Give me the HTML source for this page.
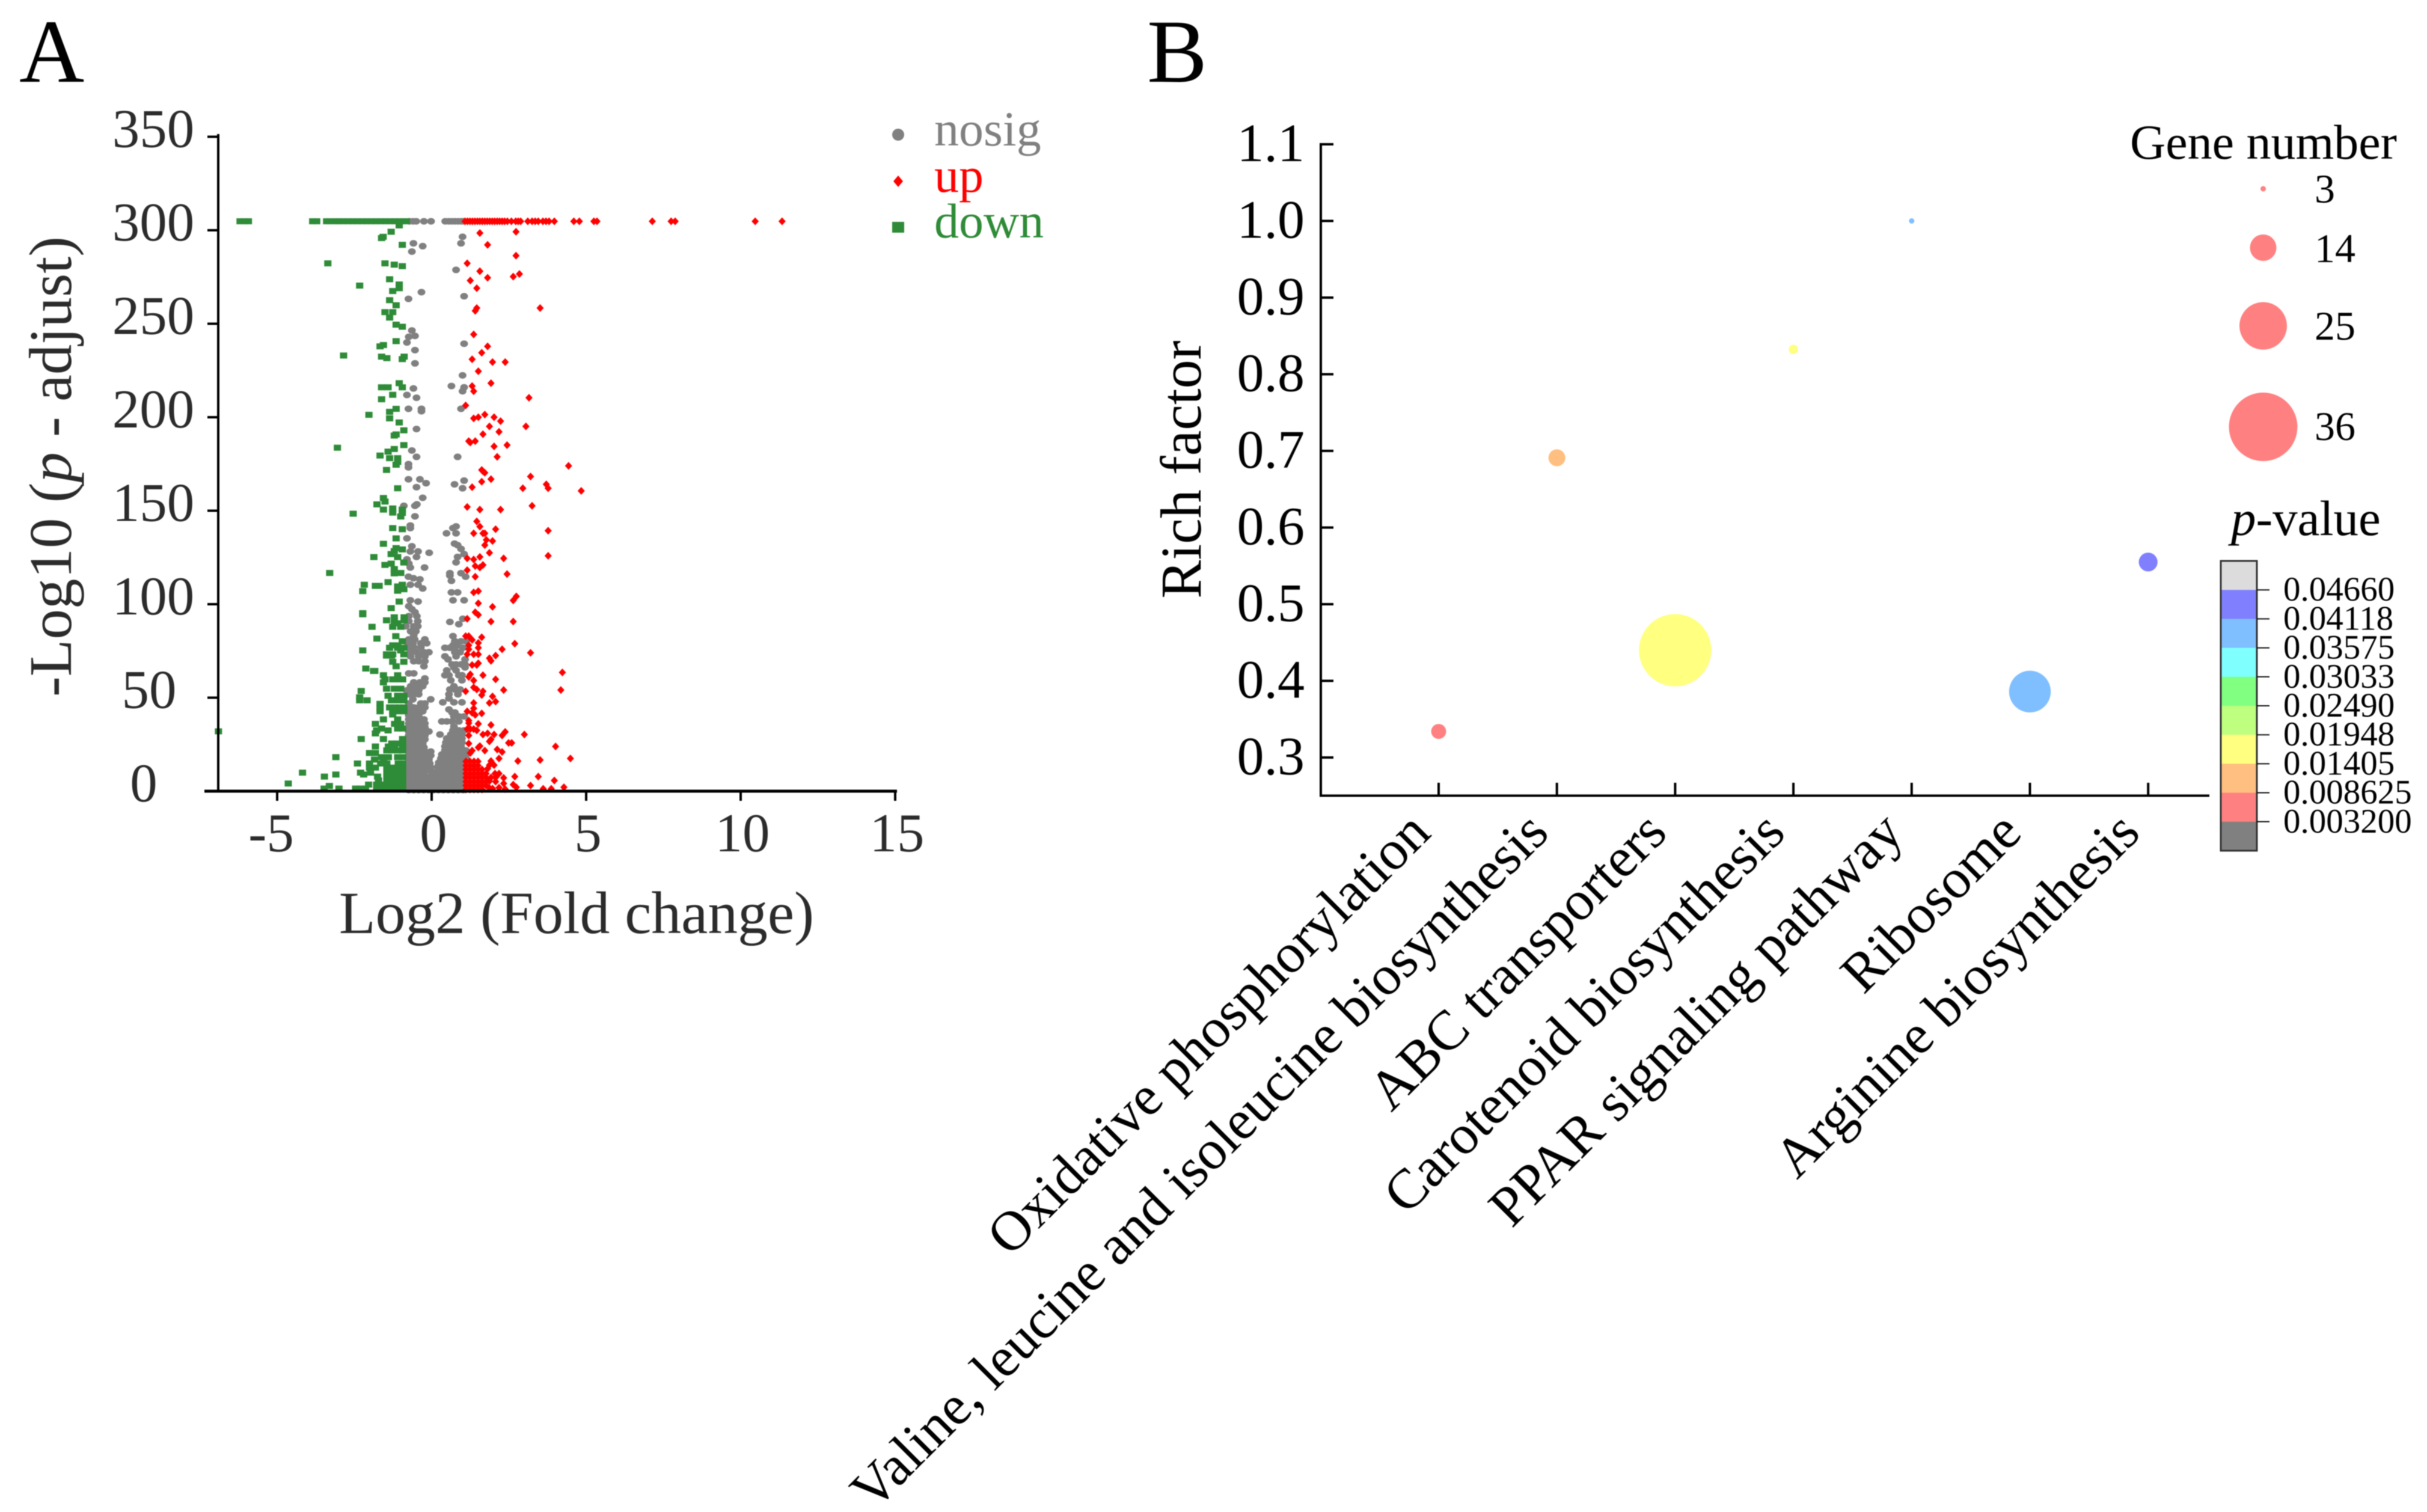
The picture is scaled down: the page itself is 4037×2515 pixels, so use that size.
<!DOCTYPE html>
<html lang="en">
<head>
<meta charset="utf-8">
<title>Volcano plot and KEGG enrichment bubble chart</title>
<style>
html,body{margin:0;padding:0;background:#fff;}
svg{display:block;filter:blur(0.9px);}
text{font-family:"Liberation Serif",serif;}
</style>
</head>
<body>
<svg id="figure" xmlns="http://www.w3.org/2000/svg" width="4037" height="2515" viewBox="0 0 4037 2515">
<rect x="0" y="0" width="4037" height="2515" fill="#fff"/>
<text x="32" y="136" font-size="150" fill="#000">A</text>
<text x="1908" y="136" font-size="150" fill="#000">B</text>

<g id="panelA">
<g id="nosigLayer"></g>
<g id="upLayer"></g>
<g id="downLayer"></g>
<g id="axesA"></g>
<text x="959" y="1552" font-size="99.500" text-anchor="middle" fill="#2b2b2b">Log2 (Fold change)</text>
<text transform="translate(118,776) rotate(-90)" font-size="101" text-anchor="middle" fill="#2b2b2b">-Log10 (<tspan font-style="italic">p</tspan> - adjust)</text>
<g>
<circle cx="1494" cy="224" r="10" fill="#808080"/>
<text x="1554" y="242" font-size="82" fill="#808080">nosig</text>
<path d="M1494 292L1502 301.500L1494 311L1486 301.500Z" fill="#ff0000"/>
<text x="1554" y="319" font-size="82" fill="#ff0000">up</text>
<rect x="1484" y="369" width="20" height="18" fill="#2e8b37"/>
<text x="1554" y="395" font-size="82" fill="#2e8b37">down</text>
</g>
</g>

<g id="panelB">
<g id="axesB"></g>
<g id="bubbles"></g>
<g id="catLabels"></g>
<text transform="translate(1997,781) rotate(-90)" font-size="96" text-anchor="middle" fill="#000">Rich factor</text>
<text x="3543" y="264" font-size="82" fill="#000">Gene number</text>
<g id="sizeLegend"></g>
<text x="3711" y="890" font-size="83" fill="#000"><tspan font-style="italic">p</tspan>-value</text>
<g id="colorbar"></g>
</g>
</svg>

<script>
/* ---------- Panel A data: [log2 fold change, -log10 p-adjust] ---------- */
const volcanoXTicks = [-5, 0, 5, 10, 15];
const volcanoYTicks = [0, 50, 100, 150, 200, 250, 300, 350];

const topRowDown = [-6.2,-6.05,-5.93,-3.85,-3.72,-3.4,-3.28,-3.1,-3,-2.85,-2.7,-2.55,-2.4,-2.25,-2.1,-1.95,-1.8,-1.65,-1.5,-1.35,-1.2,-1.05,-0.9,-0.82];
const topRowNosig = [-0.72,-0.6,-0.5,-0.25,-0.02,0.44,0.55,0.65,0.75,0.85,0.95,1.02];
const topRowUp = [1.08,1.16,1.24,1.32,1.4,1.48,1.56,1.64,1.72,1.8,1.88,1.96,2.04,2.12,2.2,2.28,2.36,2.45,2.58,2.72,2.8,2.88,3.11,3.25,3.35,3.45,3.6,3.7,3.8,3.97,4.6,4.78,5.25,5.35,7.14,7.75,7.88,10.47,11.34];
const topRowLevel = [304.8];

const downPoints = [[-1.57,296.5],[-1.05,302.6],[-1.31,299.2],[-1.62,295.8],[-0.95,292.2],[-3.36,282.3],[-1.51,282.3],[-1.21,281.6],[-0.95,280.8],[-1.36,273.8],[-1.05,271],[-2.33,270.4],[-1.05,269],[-1.26,267.5],[-1.36,262.6],[-1.15,259.9],[-1.51,256.2],[-1.26,256.2],[-1.36,253.3],[-1.15,249.5],[-0.95,248.4],[-1.15,240.7],[-1.56,238.6],[-1.67,237.9],[-2.85,233],[-1.62,232.4],[-1.45,231.6],[-0.89,232.4],[-0.95,231.1],[-1.05,218.2],[-1.62,216],[-1.41,216],[-0.95,216],[-1.26,212],[-1.62,209.6],[-1.15,204.5],
[-2.03,201.3],[-1.36,202.9],[-1.36,199.4],[-1.05,197.2],[-0.9,193],[-1.15,190.8],[-1.21,190.2],[-3.05,183.7],[-0.9,185.1],[-1.21,183],[-1.41,181.6],[-1.67,179.5],[-1.36,178.1],[-1.1,178.1],[-1.1,176.1],[-1.15,174.6],[-1.46,171.8],[-1.1,162],[-1.56,156.8],[-1.51,154.9],[-1.77,153.4],[-1.56,150.6],[-1.26,151.2],[-1.26,149],[-0.95,150.6],[-0.95,148.8],[-1,146.9],[-2.54,148.4],[-1.26,140.7],[-0.95,140.1],[-1.15,135.2],[-1.56,132.3],[-1.15,130],[-0.95,129.3],[-1.21,128.4],[-1.31,126.8],[-1.1,125.2],[-1.87,125.2],[-0.9,122.3],[-1.31,121.7],[-1.51,121],[-1.21,118.8],[-1.21,116.5],[-1,116.7],[-3.3,116.7],[-1.41,111.8],[-2.18,110.4],[-1.82,109.8],[-1.7,109.8],[-0.95,110.4],[-1.1,109.5],[-0.9,108],[-1.1,107.2],[-2.23,107],[-1.05,101.4],[-1.31,97.9],[-2.23,95.2],
[-6.9,32],[-4.64,4.1]];

const downRows = [
[94.6,[-2.23]],[93,[-1.21,-0.89]],[91.4,[-1.46,-1.21,-0.89]],[89.8,[-1.1,-1.21]],[87.9,[-1.93,-1.26,-1]],[82.9,[-1.16]],[81.6,[-1.77]],[80.2,[-0.95]],[78,[-1.26,-1.1]],[76.7,[-1.36,-1.1,-0.9]],[75.3,[-2.23,-1]],[73.2,[-1.46,-1.26,-0.9]],[72.5,[-1.46,-1.3]],[69.2,[-1.26,-0.9]],[66.8,[-1.15]],[65.6,[-2.13]],[64.3,[-1.84,-1.88]],[62,[-1.56,-1.1]],[59.8,[-1.51,-1.26,-1.1,-0.94]],[58.2,[-1.56]],[54.8,[-1.46,-1.21,-1]],[53.6,[-2.28]],[51,[-1.41,-1.1,-0.9]],[50.2,[-2.33]],[48.6,[-2.33,-2.09,-1.3,-1.1,-0.9]],[46.7,[-1.67]],[44.8,[-1.67,-1.36,-1.2,-0.9,-1.05]],[42.7,[-1.67,-1.26,-1.1,-0.9]],[41,[-1.26]],[38.4,[-1.56,-1.1]],[36,[-1.82,-1.2,-1]],[33.5,[-1.62,-1.1,-0.94]],[32.5,[-1.78,-1.41]],[30.9,[-1.82]],[27.9,[-1.56,-2.28,-0.94]],[25.5,[-1.29,-1.1,-0.94]],[23.9,[-1.82,-1.4,-1.2,-0.94]],[21.8,[-1.45,-1.29,-1.1,-0.94]],[20.4,[-2.01,-1.82]],[18.2,[-3.1,-1.62,-1.4,-1.1,-0.94]],[16.9,[-1.85,-1.55]],[14.8,[-2.4,-2.01,-1.65,-1.45,-1.08,-0.94]],[12.6,[-2.01,-1.82,-1.45,-1.29,-1.1,-0.94]],[9.9,[-4.18,-2.3,-1.98,-1.45,-1.29,-1.1,-0.94]],[8.9,[-3.1,-2.2]],[7.8,[-3.47,-1.75,-1.45,-1.29,-1.1,-0.94]],[5.7,[-1.72,-1.45,-1.29,-1.1,-0.94]],[3.5,[-2.04,-1.78,-1.58,-1.42,-1.26,-1.1,-0.94]],[2.8,[-3.31]],[1.4,[-3.48,-3,-2.46,-2.3,-2.14,-1.78,-1.62,-1.45,-1.29,-1.1,-0.94]]
];

const nosigPoints = [[-0.59,293],[-0.29,291.5],[-0.64,288.6],[1,296.5],[0.95,293],[0.79,278.8],[-0.33,266.9],[-0.75,263.3],[1.05,264.7],[-0.64,246.4],[-0.54,243.5],[-0.74,243],[-0.8,240],[1.05,239.3],[-0.54,235.9],[-0.54,228.8],[1,222.4],[0.64,216.7],[1.05,216],[1,213.9],[-0.59,215.4],[-0.8,211.9],[-0.49,210.4],[-0.75,204.5],[-0.33,204.5],[0.95,204.5],
[-0.33,203.2],[-0.49,193.7],[-0.64,182.2],[-0.49,178.8],[0.84,178.8],[-0.75,174.9],[-0.75,173.2],[-0.75,166.8],[-0.38,166.8],[-0.18,164.7],[-0.49,162.6],[1.05,166.1],[0.74,164.1],[1,162],[-0.29,156.9],[-0.48,153.4],[-0.54,152.6],[-0.9,152.6],[-0.54,147],[-0.69,142.1],[-0.69,140.7],[0.79,141.6],[0.69,140.7],[0.48,137.9],[0.79,137.9],[-0.8,135.2],[-0.64,131],[-0.69,128.2],[-0.44,128.2],[-0.08,127.5],[-0.49,125.3],[0.74,132.4],[0.84,131.6],[0.95,129.6],[1.05,126.8],[0.84,125.3],[0.79,122.4],[-0.8,124],[-0.74,121.8],[-0.69,119.6],[-0.23,119.6],[0.59,116.6],[0.59,115.3],[0.95,116.6],[1.1,114.7],[0.64,112.5],[-0.75,114.7],[-0.59,113.9],[-0.38,113.3],[-0.69,110.4],[-0.44,110.4],[-0.29,108.4],[0.64,106.3],[0.84,106.3],[0.69,102.1],[1.05,102.1],[-0.69,102.1],[-0.44,101.4],[-0.74,98.9],[-0.64,97.3],[-0.54,95.7]];

const nosigLeftRows = [
[93.6,[-0.74,-0.48]],[90.9,[-0.74,-0.45]],[88.2,[-0.84,-0.58,-0.45]],[85.5,[-0.68,-0.51]],[83.4,[-0.58]],[81.2,[-0.74,-0.55,-0.22]],[79.1,[-0.77,-0.61,-0.35,-0.16]],[77,[-0.77,-0.58,-0.35]],[74.3,[-0.68,-0.48,-0.25,-0.09]],[72.1,[-0.68,-0.42,-0.22]],[69.5,[-0.58,-0.42,-0.22]],[66.8,[-0.25]],[63,[-0.74,-0.58]],[60.3,[-0.22]],[58.2,[-0.58,-0.38,-0.22]],[56.1,[-0.68,-0.48,-0.29]],[53.9,[-0.81,-0.61,-0.42]],[51.8,[-0.74,-0.58,-0.42]],[49.1,[-0.61,-0.03]],[46.9,[-0.74,-0.35,-0.22]],[44.8,[-0.74,-0.58,-0.42,-0.22]],[42.7,[-0.74,-0.58,-0.42,-0.29]],[40.5,[-0.74,-0.58,-0.42]],[38.4,[-0.74,-0.58,-0.42,-0.25]],[36.2,[-0.74,-0.58,-0.42,-0.22]],[34.1,[-0.74,-0.58,-0.42,-0.22]],[31.9,[-0.74,-0.58,-0.42,-0.22,-0.09]],[29.8,[-0.74,-0.58,-0.42,-0.22]],[27.7,[-0.74,-0.58,-0.42,-0.22]],[25.5,[-0.74,-0.58,-0.42,-0.29]],[23.4,[-0.74,-0.58,-0.42,-0.25]],[21.2,[-0.74,-0.58,-0.42,-0.22,-0.03]],[19.1,[-0.74,-0.58,-0.42,-0.22,-0.03]],[16.9,[-0.74,-0.58,-0.42,-0.22,-0.09]],[14.8,[-0.74,-0.58,-0.42,-0.22,-0.06]],[12.6,[-0.74,-0.58,-0.42,-0.22,-0.03]],[10.5,[-0.74,-0.58,-0.42,-0.22,0]],[8.4,[-0.74,-0.58,-0.42,-0.22,0]],[6.2,[-0.74,-0.58,-0.42,-0.22,-0.03,0.14]]
];

const nosigRightRows = [
[92.2,[1.01]],[90.5,[0.59]],[89.3,[0.88]],[82.9,[0.69]],[80.2,[0.75,0.95,1.11]],[78,[0.69,0.82]],[76.7,[0.43,0.59,0.75,1.01]],[74.3,[0.75,0.92]],[72.1,[0.43,0.79]],[70.5,[0.53,1.08]],[67.8,[0.66,0.79,0.95,1.08]],[66.2,[0.72,1.08]],[64.6,[0.49,0.79]],[62,[0.43,0.56,0.88,0.98]],[59.3,[0.62,0.98]],[56.1,[0.72]],[54.4,[0.59,0.75,0.92]],[51.8,[0.56,0.85]],[49.6,[0.56]],[47.5,[0.36,0.72,0.98]],[43.7,[0.56]],[42.1,[0.66,0.75]],[40,[0.72,0.88,1.05]],[37.3,[0.33,0.49,0.66,0.88]],[34.6,[0.72]],[32.5,[0.69,0.88,1.05]],[30.3,[0.27,0.62,0.82,0.98]],[28.2,[0.49,0.66,0.82,0.98]],[26,[0.46,0.66,0.82,0.98]],[23.9,[0.43,0.62,0.82,0.95]],[21.8,[0.43,0.62,0.82,0.98,1.11]],[19.6,[0.33,0.49,0.66,0.82,0.98,1.11]],[17.5,[0.3,0.46,0.62,0.79,0.95,1.11]],[15.3,[0.23,0.4,0.56,0.72,0.88,1.05]],[13.2,[0.2,0.36,0.53,0.69,0.85,1.01]],[11,[0.2,0.36,0.53,0.69,0.85,1.01]],[8.9,[0.14,0.36,0.53,0.69,0.85,1.01]],[6.6,[0.2,0.36,0.53,0.69,0.85,1.01]]
];

const nosigBaseRows = [
[4.4,[-0.74,-0.58,-0.42,-0.26,-0.1,0.06,0.22,0.38,0.54,0.7,0.86,1.02]],
[2.4,[-0.74,-0.58,-0.42,-0.26,-0.1,0.06,0.22,0.38,0.54,0.7,0.86,1.02]],
[0.6,[-0.74,-0.58,-0.42,-0.26,-0.1,0.06,0.22,0.38,0.54,0.7,0.86,1.02]]
];

const upPoints = [[1.56,298.5],[2.73,299.2],[1.81,292.2],[2.73,286.4],[1.15,282.3],[1.56,278.1],[1.81,274.6],[2.64,275.2],[2.84,276.6],[1.25,273.1],[1.46,269],[1.46,258.4],[1.41,256.9],[3.51,258.4],[1.36,244.3],[1.81,237.9],[1.62,234.5],[1.31,231],[1.97,229.5],[2.38,229.5],[1.51,224.6],[1.92,218.2],[1.31,216.7],[1.36,213.9],[3.15,210.4],[1.1,206.3],
[1.36,199.4],[1.51,200],[1.72,201.4],[2.02,200],[2.23,197.9],[1.87,195.1],[3.05,195.1],[2.18,192.2],[1.66,190.9],[1.2,187.2],[1.25,186.5],[1.41,187.2],[2.02,184.4],[2.44,185.1],[2.12,178.8],[4.43,174],[1.62,171.8],[1.66,171.1],[1.72,170.3],[3.2,168.3],[1.92,166.9],[1.62,165.5],[1.31,162.6],[3.71,164.1],[3.77,162],[2.95,162],[4.84,160.6],[1.15,152],[1.56,150.6],[2.23,150.6],[3.25,152.6],[1.46,144.3],[1.56,141.5],[2.07,140.1],[3.77,139.3],[1.36,137.9],[1.66,137.9],[1.72,137.9],[1.77,134.4],[1.97,133.8],[1.72,131.6],[1.87,127.5],[3.77,125.9],[1.15,124.5],[1.36,123.9],[1.56,125.3],[2.33,124.5],[1.41,120.4],[1.56,119.6],[1.66,121],[1.15,118.2],[1.41,114.7],[2.44,116.1],[1.36,106.3],[1.51,107],[2.74,104.2],[2.64,102],[1.51,100.5],[1.97,98.6],[1.41,95.7],
[1.15,92.2],[1.51,94.3],[1.92,90.7],[2.64,90.7],[1.1,82.9],[1.2,82.9],[1.31,80.9],[1.62,82.3],[1.51,79.3],[1.2,78],[1.2,75.9],[1.51,76.7],[2.69,78.9],[2.28,75.9],[3.2,74],[1.15,73.2],[1.36,73.2],[1.51,73.2],[2.07,72.5],[1.87,71.1],[1.92,69.7],[1.31,67.5],[1.46,67.5],[1.51,68.4],[4.23,63.5],[1.25,62.5],[1.2,61.1],[1.66,62],[1.36,59.2],[2.07,59.8],[1.36,55.5],[1.46,54.4],[1.66,53.4],[1.62,51.4],[1.1,53.4],[2.33,54.1],[4.18,54.1],[1.97,50.7],[2.07,47.9],[1.87,47.2],[1.36,47.2],[1.36,44.3],[1.15,42.7],[1.31,41.9],[1.41,40.8],[1.62,41.6],[1.2,37.8],[1.2,36.4],[1.51,36],[1.92,35.4],[1.15,33.2],[1.25,33.2],[1.36,33.2],[1.46,32.5],[1.2,29.8],[1.66,30.3],[1.81,30.9],[2.02,30.3],[2.28,29.8],[2.38,31.7],[3,30.3],[1.2,25.5],[1.87,26.6],[1.92,27.7],[2.49,25.8],[2.59,25.8],[4.01,23.9],[1.51,23.4],[1.56,24.1],[1.72,21.7],[2.12,22.3],[2.28,21],[1.31,21.7],[1.25,20.4],[2.18,17.5],[4.49,17.5],[3.51,16.7],[2.79,16.1],[1.92,16.1],[1.87,13.9],[2.02,13.9],[1.81,12],
[2.05,9.4],[2.18,9.4],[1.92,7.3],[2.07,7.3],[2.33,7.1],[2.69,7.8],[3.45,7.8],[1.87,5.4],[2.07,5.1],[2.33,4.1],[3.97,5.7],[2.64,3.5],[2.74,2.1],[3.2,3],[3.61,1.3],[3.87,1.3],[4.28,2.1],[1.76,3],[1.86,1.9],[1.97,1.4],[2.18,1.9],[2.38,1.1],[1.76,9.4],[1.76,7.3],[1.76,5.1]];

const upRows = [
[15.9,[1.11,1.24,1.37,1.5]],[13.7,[1.11,1.24,1.37,1.5]],[11.6,[1.11,1.24,1.37,1.5,1.63]],[9.4,[1.11,1.24,1.37,1.5,1.63]],[7.3,[1.11,1.24,1.37,1.5,1.63]],[5.1,[1.11,1.24,1.37,1.5,1.63]],[3,[1.11,1.24,1.37,1.5,1.63]],[0.9,[1.11,1.24,1.37,1.5,1.63]]
];

/* ---------- Panel B data ---------- */
const pathways = ["Oxidative phosphorylation","Valine, leucine and isoleucine biosynthesis","ABC transporters","Carotenoid biosynthesis","PPAR signaling pathway","Ribosome","Arginine biosynthesis"];
const richFactor = [0.334,0.691,0.44,0.8325,1.0,0.386,0.555];
const geneCount = [8,9,38,5,3,22,10];
const pValueBand = [8,7,6,6,2,2,1];
const richTicks = ["0.3","0.4","0.5","0.6","0.7","0.8","0.9","1.0","1.1"];
const sizeLegendValues = [3,14,25,36];
const colorbarLabels = ["0.04660","0.04118","0.03575","0.03033","0.02490","0.01948","0.01405","0.008625","0.003200"];
const bandColors = ["#dcdcdc","#8080ff","#80bfff","#80ffff","#80ff80","#bfff80","#ffff80","#ffbf80","#ff8080","#808080"];

/* ---------- helpers ---------- */
const NS = "http://www.w3.org/2000/svg";
function mk(tag, parent, attrs, txt) {
  const el = document.createElementNS(NS, tag);
  for (const k in attrs) el.setAttribute(k, attrs[k]);
  if (txt !== undefined) el.textContent = txt;
  parent.appendChild(el);
  return el;
}
function expand(rows) {
  const out = [];
  rows.forEach(function (r) { r[1].forEach(function (fc) { out.push([fc, r[0]]); }); });
  return out;
}
const xA = function (v) { return 718 + 51.4 * v; };
const yA = function (v) { return 1316 - 3.11 * v; };
const yB = function (v) { return 1260 - 1275 * (v - 0.3); };
const xB = function (i) { return 2393 + 196.7 * i; };
const rB = function (n) { return 4.5 + (n - 3) * 1.59; };

/* ---------- Panel A marks ---------- */
const nosigLayer = document.getElementById("nosigLayer");
const upLayer = document.getElementById("upLayer");
const downLayer = document.getElementById("downLayer");
const allNosig = topRowNosig.map(function (fc) { return [fc, topRowLevel[0]]; })
  .concat(nosigPoints, expand(nosigLeftRows), expand(nosigRightRows), expand(nosigBaseRows));
const allUp = topRowUp.map(function (fc) { return [fc, topRowLevel[0]]; }).concat(upPoints, expand(upRows));
const allDown = topRowDown.map(function (fc) { return [fc, topRowLevel[0]]; }).concat(downPoints, expand(downRows));

allNosig.forEach(function (p) {
  const el = mk("ellipse", nosigLayer, { cx: xA(p[0]), cy: yA(p[1]), rx: 6.5, ry: 5.5, fill: "#808080" });
  
  
});
allUp.forEach(function (p) {
  const x = xA(p[0]), y = yA(p[1]);
  const el = mk("path", upLayer, { d: "M" + x + " " + (y - 6.5) + "L" + (x + 6) + " " + y + "L" + x + " " + (y + 6.5) + "L" + (x - 6) + " " + y + "Z", fill: "#ff0000" });
  
  
});
allDown.forEach(function (p) {
  const el = mk("rect", downLayer, { x: xA(p[0]) - 6, y: yA(p[1]) - 5, width: 12, height: 10, fill: "#2e8b37" });
  
  
});

/* ---------- Panel A axes ---------- */
const axesA = document.getElementById("axesA");
const yAxisA = mk("line", axesA, { x1: 363, y1: 223, x2: 363, y2: 1318, stroke: "#000", "stroke-width": 4 });


const xAxisA = mk("line", axesA, { x1: 340, y1: 1316, x2: 1492, y2: 1316, stroke: "#000", "stroke-width": 5 });


volcanoYTicks.forEach(function (v) {
  const t = mk("line", axesA, { x1: 345, y1: yA(v), x2: 363, y2: yA(v), stroke: "#000", "stroke-width": 4 });
  
  
  const s = String(v);
  const cx = s.length === 3 ? 255 : (s.length === 2 ? 248 : 239);
  const l = mk("text", axesA, { x: cx, y: yA(v) + 17, "font-size": 91, "text-anchor": "middle", fill: "#2b2b2b" }, s);
  
  
});
volcanoXTicks.forEach(function (v) {
  const t = mk("line", axesA, { x1: xA(v), y1: 1316, x2: xA(v), y2: 1332, stroke: "#000", "stroke-width": 4 });
  
  
  const l = mk("text", axesA, { x: xA(v) + (v < 0 ? -10 : 3), y: 1416, "font-size": 91, "text-anchor": "middle", fill: "#2b2b2b" }, String(v));
  
  
});

/* ---------- Panel B axes ---------- */
const axesB = document.getElementById("axesB");
const yAxisB = mk("line", axesB, { x1: 2197, y1: 238, x2: 2197, y2: 1325, stroke: "#000", "stroke-width": 4 });


const xAxisB = mk("line", axesB, { x1: 2195, y1: 1323.5, x2: 3675, y2: 1323.5, stroke: "#000", "stroke-width": 4 });


richTicks.forEach(function (s) {
  const v = parseFloat(s);
  const t = mk("line", axesB, { x1: 2197, y1: yB(v), x2: 2218, y2: yB(v), stroke: "#000", "stroke-width": 4 });
  
  
  const l = mk("text", axesB, { x: 2170, y: yB(v) + 28, "font-size": 90, "text-anchor": "end", fill: "#000" }, s);
  
  
});
pathways.forEach(function (name, i) {
  const t = mk("line", axesB, { x1: xB(i), y1: 1302, x2: xB(i), y2: 1323, stroke: "#000", "stroke-width": 4 });
  
  
});

/* ---------- Panel B bubbles and labels ---------- */
const bubbles = document.getElementById("bubbles");
pathways.forEach(function (name, i) {
  const c = mk("circle", bubbles, { cx: xB(i), cy: yB(richFactor[i]), r: rB(geneCount[i]), fill: bandColors[pValueBand[i]] });
  
  
});
const catLabels = document.getElementById("catLabels");
pathways.forEach(function (name, i) {
  const x = xB(i) - 10, y = 1389;
  const l = mk("text", catLabels, { transform: "translate(" + x + "," + y + ") rotate(-45)", "font-size": 93, "text-anchor": "end", fill: "#000" }, name);
  
  
});

/* ---------- Gene number legend ---------- */
const sizeLegend = document.getElementById("sizeLegend");
const sizeRowY = [314, 412, 542, 710];
const sizeLabelBaseline = [337, 436, 565, 732];
sizeLegendValues.forEach(function (n, i) {
  const c = mk("circle", sizeLegend, { cx: 3764.5, cy: sizeRowY[i], r: rB(n), fill: "#ff8080" });
  
  
  const l = mk("text", sizeLegend, { x: 3850, y: sizeLabelBaseline[i], "font-size": 68, fill: "#000" }, String(n));
  
  
});

/* ---------- Colorbar ---------- */
const colorbar = document.getElementById("colorbar");
const barTop = 933, barStep = 48.2;
bandColors.forEach(function (col, i) {
  const r = mk("rect", colorbar, { x: 3694, y: barTop + i * barStep, width: 60, height: barStep + 0.5, fill: col });
  
  
});
const frame = mk("rect", colorbar, { x: 3694, y: barTop, width: 60, height: barStep * bandColors.length, fill: "none", stroke: "#333", "stroke-width": 3 });


colorbarLabels.forEach(function (s, i) {
  const y = barTop + (i + 1) * barStep;
  const t = mk("line", colorbar, { x1: 3754, y1: y, x2: 3775, y2: y, stroke: "#111", "stroke-width": 2 });
  
  
  const l = mk("text", colorbar, { x: 3798, y: y + 18, "font-size": 57, fill: "#000" }, s);
  
  
});
</script>
</body>
</html>
